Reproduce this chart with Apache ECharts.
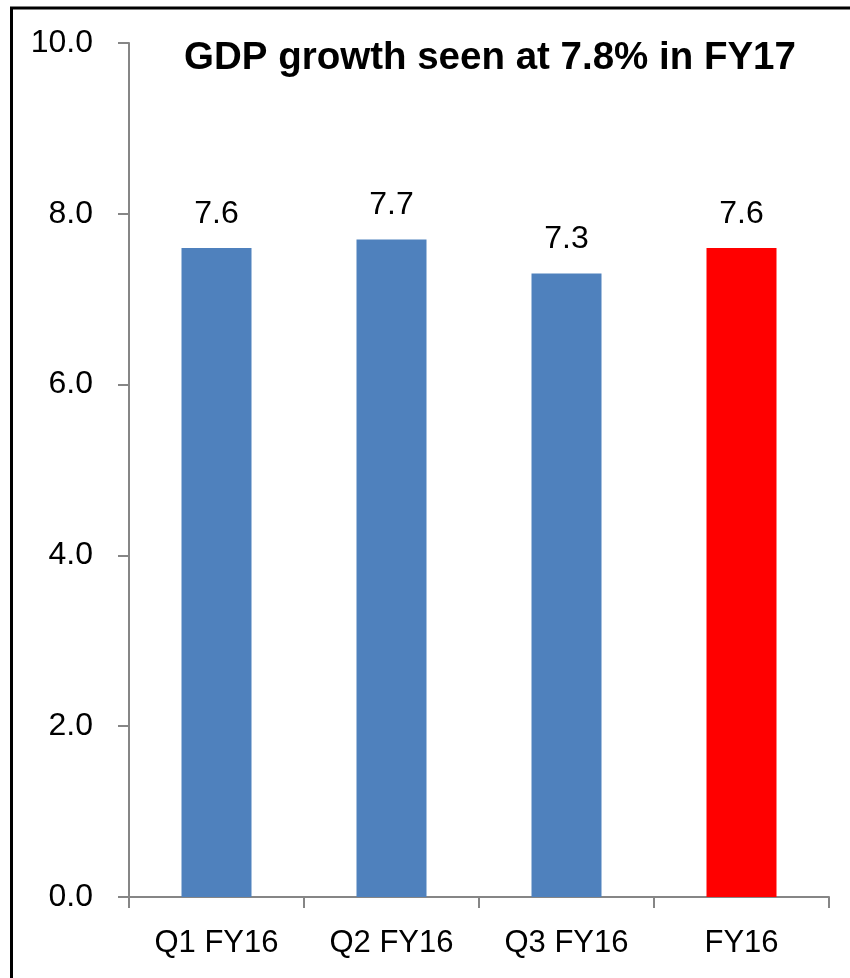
<!DOCTYPE html>
<html><head><meta charset="utf-8">
<script src="https://cdn.jsdelivr.net/npm/echarts@6/dist/echarts.min.js"></script>
<style>html,body{margin:0;padding:0;background:#fff}#c{width:850px;height:978px}</style>
</head><body><div id="c"></div>
<script>
const categories = ["Q1 FY16", "Q2 FY16", "Q3 FY16", "FY16"];
const values = [7.6, 7.7, 7.3, 7.6];
const barColors = ["#4F81BD", "#4F81BD", "#4F81BD", "#FF0000"];
const yTicks = [0, 2, 4, 6, 8, 10];
const titleText = "GDP growth seen at 7.8% in FY17";

const FONT = "Liberation Sans";
const chart = echarts.init(document.getElementById('c'), null, {renderer: 'canvas'});
chart.setOption({
  animation: false,
  backgroundColor: '#fff',
  title: {
    text: titleText, left: 485, top: 34, textAlign: 'center',
    textStyle: {fontFamily: FONT, fontWeight: 'bold', fontSize: 38.5, color: '#000'}
  },
  graphic: [{
    type: 'rect', shape: {x: 11.5, y: 8, width: 900, height: 1000},
    style: {fill: 'none', stroke: '#000', lineWidth: 3}, silent: true
  }],
  grid: {left: 129, right: 21, top: 43, bottom: 81, containLabel: false},
  xAxis: {
    type: 'category', data: categories,
    axisLine: {lineStyle: {color: '#868686', width: 2}},
    axisTick: {show: true, length: 11, alignWithLabel: false, lineStyle: {color: '#868686', width: 2}},
    axisLabel: {margin: 31, fontFamily: FONT, fontSize: 31, color: '#000'},
    splitLine: {show: false}
  },
  yAxis: {
    type: 'value', min: yTicks[0], max: yTicks[yTicks.length - 1], interval: 2,
    axisLine: {show: true, lineStyle: {color: '#868686', width: 2}},
    axisTick: {show: true, length: 11, lineStyle: {color: '#868686', width: 2}},
    axisLabel: {margin: 36, fontFamily: FONT, fontSize: 32, color: '#000',
      formatter: v => v.toFixed(1)},
    splitLine: {show: false}
  },
  series: [{
    type: 'bar', barWidth: '40%',
    data: values.map((v, i) => ({value: v, itemStyle: {color: barColors[i]}})),
    label: {show: true, position: 'top', distance: 18, fontFamily: FONT, fontSize: 32, color: '#000',
      formatter: p => p.value.toFixed(1)}
  }]
});
</script></body></html>
